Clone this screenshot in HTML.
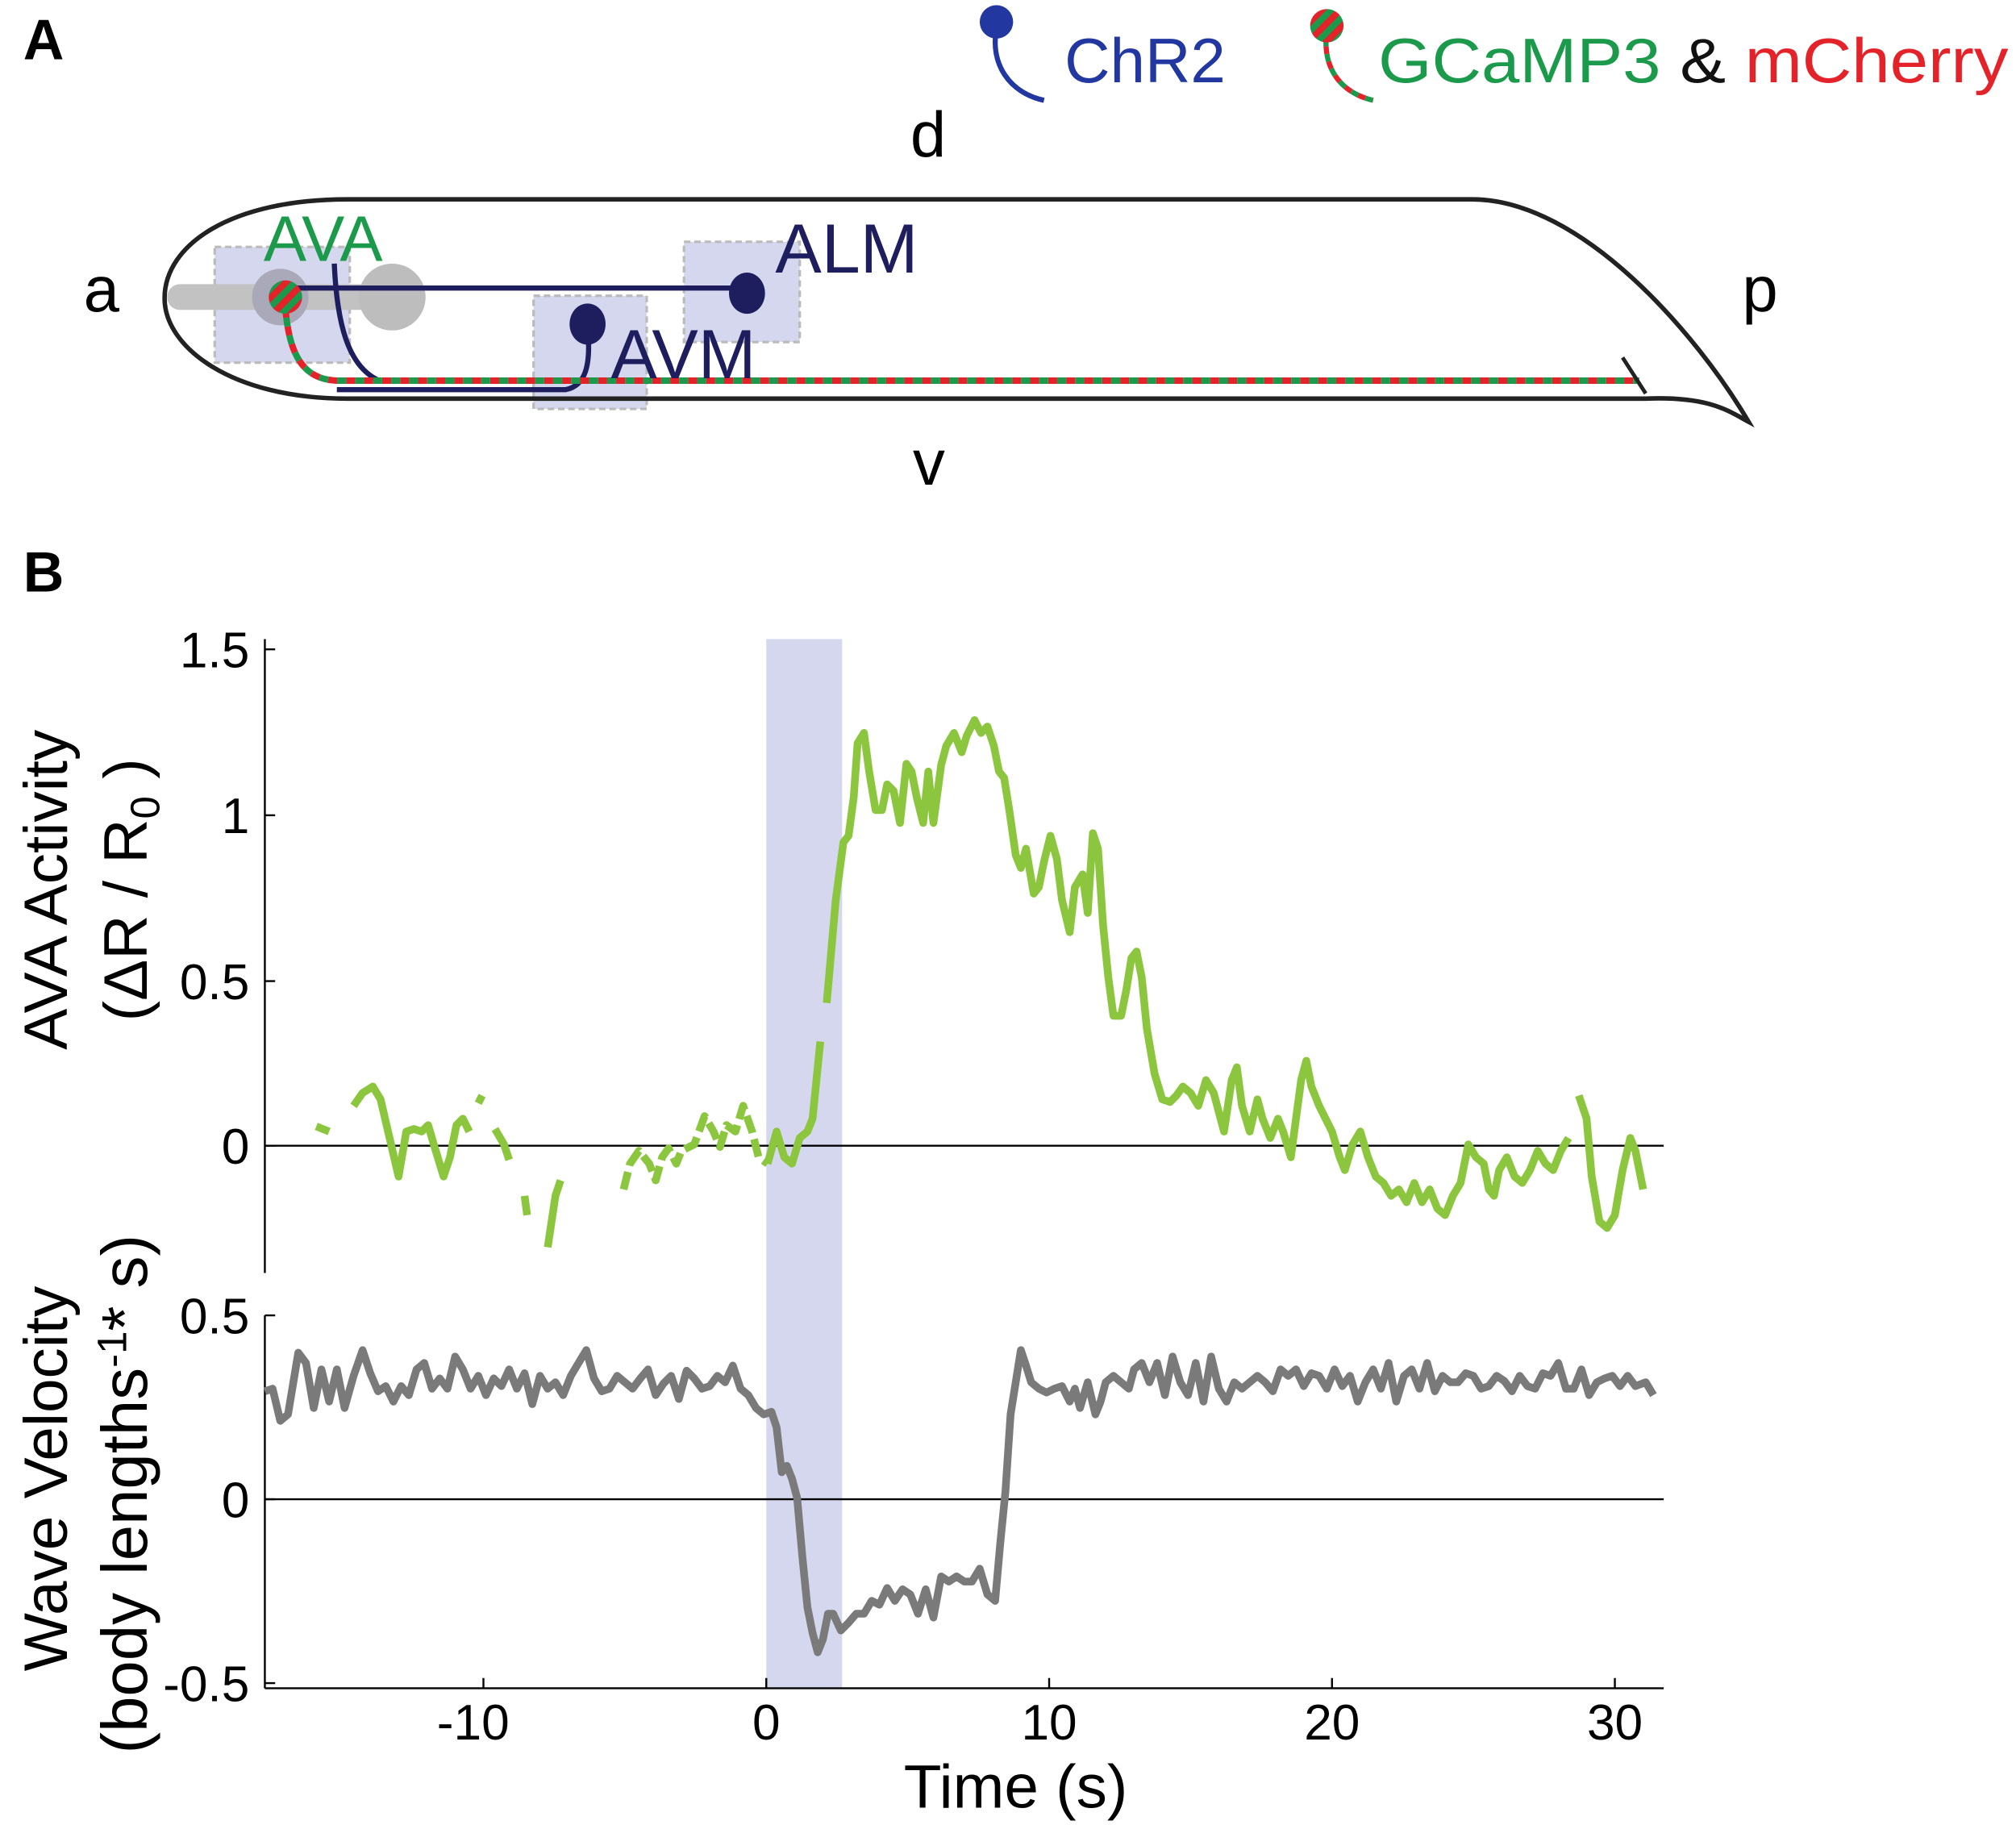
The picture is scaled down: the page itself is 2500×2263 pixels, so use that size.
<!DOCTYPE html>
<html><head><meta charset="utf-8"><style>html,body{margin:0;padding:0;background:#fff}svg{display:block}</style></head>
<body>
<svg width="2500" height="2263" viewBox="0 0 1568 1419.3" xmlns="http://www.w3.org/2000/svg" font-family="Liberation Sans, sans-serif">
<defs>
<pattern id="st" width="10" height="10" patternUnits="userSpaceOnUse" patternTransform="rotate(45)"><rect width="5" height="10" fill="#e42229"/><rect x="5" width="5" height="10" fill="#1a9a4a"/></pattern>
</defs>
<text x="18" y="46" font-size="44" font-weight="bold">A</text>
<text x="18" y="460" font-size="44" font-weight="bold">B</text>
<!-- legend -->
<path d="M775,22 C770,50 785,72 812,78" fill="none" stroke="#2238a0" stroke-width="4"/>
<circle cx="775" cy="17" r="13" fill="#2238a0"/>
<text x="828" y="64" font-size="49" fill="#2238a0">ChR2</text>
<path d="M1032,24 C1028,52 1042,72 1068,78" fill="none" stroke="#e42229" stroke-width="4" stroke-dasharray="6 6"/>
<path d="M1032,24 C1028,52 1042,72 1068,78" fill="none" stroke="#1a9a4a" stroke-width="4" stroke-dasharray="6 6" stroke-dashoffset="6"/>
<circle cx="1032" cy="20" r="13" fill="url(#st)"/>
<text x="1072" y="64" font-size="49" fill="#1a9a4a" textLength="490" lengthAdjust="spacingAndGlyphs">GCaMP3 <tspan fill="#111">&amp;</tspan> <tspan fill="#e42229">mCherry</tspan></text>
<!-- worm -->
<text x="65" y="242" font-size="50">a</text>
<text x="1355" y="242" font-size="50">p</text>
<text x="708" y="122" font-size="50">d</text>
<text x="710" y="377" font-size="50">v</text>
<rect x="167" y="192" width="105" height="90" fill="#d5d7ee" stroke="#bbb" stroke-width="2" stroke-dasharray="5 3"/>
<rect x="415" y="230" width="88" height="88" fill="#d5d7ee" stroke="#bbb" stroke-width="2" stroke-dasharray="5 3"/>
<rect x="532" y="188" width="90" height="78" fill="#d5d7ee" stroke="#bbb" stroke-width="2" stroke-dasharray="5 3"/>
<line x1="140" y1="231" x2="305" y2="231" stroke="#c2c2c2" stroke-width="20" stroke-linecap="round"/>
<circle cx="218" cy="231" r="22" fill="#a9a9b9"/>
<circle cx="305" cy="231" r="26" fill="#bdbdbd"/>
<path d="M270,155 L1145,155 C1230,155 1320,260 1360,328 C1345,320 1330,308 1280,310 L270,310 C180,310 128,270 128,232 C128,190 180,155 270,155 Z" fill="none" stroke="#222" stroke-width="3.5"/>
<line x1="222" y1="224" x2="581" y2="224" stroke="#1e1e5e" stroke-width="4"/>
<ellipse cx="581" cy="228" rx="14" ry="16" fill="#1e1e5e"/>
<path d="M457,255 C460,285 455,300 440,303 L262,303" fill="none" stroke="#1e1e5e" stroke-width="4"/>
<ellipse cx="457" cy="252" rx="14" ry="16" fill="#1e1e5e"/>
<path d="M260,205 C262,250 270,285 295,296" fill="none" stroke="#1e1e5e" stroke-width="4"/>
<path d="M222,240 C225,275 235,295 262,296 L1275,296" fill="none" stroke="#e42229" stroke-width="5" stroke-dasharray="7 7"/>
<path d="M222,240 C225,275 235,295 262,296 L1275,296" fill="none" stroke="#1a9a4a" stroke-width="5" stroke-dasharray="7 7" stroke-dashoffset="7"/>
<line x1="1262" y1="278" x2="1280" y2="306" stroke="#222" stroke-width="3"/>
<circle cx="222" cy="231" r="13" fill="url(#st)"/>
<text x="205" y="203" font-size="50" fill="#1a9a4a">AVA</text>
<text x="603" y="212" font-size="54" fill="#1e1e5e">ALM</text>
<text x="475" y="294" font-size="54" fill="#1e1e5e">AVM</text>
<!-- chart -->
<rect x="596" y="497" width="59" height="816" fill="#d5d7ee"/>
<g stroke="#000" stroke-width="1.5" fill="none">
<line x1="206" y1="497" x2="206" y2="990"/>
<line x1="206" y1="1023" x2="206" y2="1313"/>
<line x1="206" y1="1313" x2="1294" y2="1313"/>
<line x1="206" y1="891" x2="1294" y2="891"/>
<line x1="206" y1="1166" x2="1294" y2="1166"/>
<path d="M206,505h8M206,634h8M206,763h8M206,891h8M206,1023h8M206,1166h8M206,1309h8M376,1313v-8M596,1313v-8M816,1313v-8M1036,1313v-8M1256,1313v-8"/>
</g>
<g font-size="39" text-anchor="end">
<text x="194" y="519">1.5</text><text x="194" y="648">1</text><text x="194" y="777">0.5</text><text x="194" y="905">0</text>
<text x="194" y="1037">0.5</text><text x="194" y="1180">0</text><text x="194" y="1323">-0.5</text>
</g>
<g font-size="39" text-anchor="middle">
<text x="368" y="1353">-10</text><text x="596" y="1353">0</text><text x="816" y="1353">10</text><text x="1036" y="1353">20</text><text x="1256" y="1353">30</text>
</g>
<text x="790" y="1406" font-size="48" text-anchor="middle">Time (s)</text>
<g font-size="48" text-anchor="middle">
<text transform="translate(52,692) rotate(-90)">AVA Activity</text>
<text transform="translate(114,692) rotate(-90)">(ΔR / R<tspan font-size="32" dy="10">0</tspan><tspan dy="-10"> )</tspan></text>
<text transform="translate(52,1150) rotate(-90)">Wave Velocity</text>
<text transform="translate(114,1162) rotate(-90)" font-size="50">(body lengths<tspan font-size="32" dy="-16">-1</tspan><tspan dy="16">* s)</tspan></text>
</g>
<g fill="none" stroke="#8cc63f" stroke-width="6" stroke-linejoin="round" stroke-linecap="butt">
<polyline points="246,876 256,880"/>
<polyline points="275,860 282,850 290,845 296,855 303,885 310,915 316,880 322,878 328,880 333,875 338,892 345,915 350,900 355,875 360,870 365,880"/>
<polyline points="372,858 375,852"/>
<polyline points="385,878 392,890 396,902"/>
<polyline points="408,930 410,945"/>
<polyline points="426,970 432,930 436,918"/>
<polyline stroke-dasharray="14 5" points="485,925 490,905 497,895 505,905 510,918 515,900 520,893 526,905 530,895 540,890 548,868 555,880 560,892 565,875 572,880 578,860 585,880 590,900 597,905"/>
<polyline points="597,905 604,880 610,900 616,905 622,885 628,880 632,870 638,810"/>
<polyline points="643,780 650,700 656,655 660,650 664,620 667,578 672,570 676,600 681,630 686,630 690,610 695,615 700,640 705,594 709,600 713,620 718,640 722,600 726,640 732,595 736,580 742,570 748,585 752,572 758,560 763,570 768,565 773,580 777,600 781,605 785,630 790,665 794,675 798,660 804,695 808,690 812,670 817,650 822,668 826,700 832,725 836,690 842,680 846,710 850,648 854,660 858,720 862,760 866,790 872,790 876,770 880,745 884,740 888,760 892,800 898,835 904,855 910,857 915,852 920,845 926,850 932,860 938,840 944,850 948,865 952,880 958,840 962,830 966,860 972,880 978,855 982,870 988,885 994,870 998,880 1004,900 1008,870 1012,840 1016,825 1020,845 1026,860 1030,868 1036,880 1042,900 1046,910 1052,890 1058,880 1064,900 1070,915 1076,920 1082,930 1088,925 1094,935 1100,920 1106,935 1112,925 1118,940 1124,945 1130,930 1136,920 1142,890 1148,900 1154,905 1158,925 1162,930 1166,910 1172,900 1178,915 1184,920 1190,910 1196,895 1202,905 1208,910 1214,895 1220,885"/>
<polyline points="1228,852 1234,870 1238,915 1244,950 1250,955 1256,945 1262,910 1268,885 1272,895 1278,925"/>
</g>
<polyline fill="none" stroke="#7a7a7a" stroke-width="6" stroke-linejoin="round" points="206,1082 212,1080 218,1105 224,1100 232,1052 238,1060 244,1095 250,1065 256,1090 262,1065 268,1095 275,1070 282,1050 288,1068 294,1082 300,1078 306,1090 312,1078 318,1085 324,1065 330,1060 336,1080 342,1072 348,1080 354,1055 360,1065 366,1080 372,1070 378,1085 384,1072 390,1078 396,1065 402,1080 408,1068 414,1092 420,1070 426,1080 432,1075 438,1085 444,1070 450,1060 456,1050 462,1072 468,1082 474,1080 480,1070 486,1075 492,1080 498,1072 504,1065 510,1085 516,1076 522,1070 528,1088 534,1066 540,1072 546,1080 552,1078 558,1070 564,1075 570,1062 576,1080 582,1085 588,1095 594,1100 600,1098 604,1110 608,1145 612,1140 616,1150 620,1165 624,1210 628,1250 632,1270 636,1285 640,1275 644,1255 648,1255 654,1268 660,1262 666,1255 672,1255 678,1245 684,1248 690,1235 696,1245 702,1236 708,1240 714,1255 720,1236 726,1258 732,1226 738,1230 744,1226 750,1230 756,1230 762,1220 768,1240 774,1245 778,1200 782,1160 786,1100 790,1075 794,1050 798,1062 802,1075 808,1080 814,1083 820,1080 826,1078 832,1090 836,1080 840,1095 846,1075 852,1100 856,1090 860,1075 866,1070 872,1075 878,1080 882,1065 888,1060 894,1075 900,1060 906,1085 912,1055 918,1075 924,1085 930,1060 936,1090 942,1055 948,1080 954,1090 960,1075 966,1080 972,1075 978,1070 984,1075 990,1082 996,1065 1002,1070 1008,1065 1014,1078 1020,1068 1026,1070 1032,1080 1038,1065 1044,1078 1050,1070 1056,1090 1062,1075 1068,1065 1074,1080 1080,1060 1086,1090 1092,1070 1098,1065 1104,1080 1110,1060 1116,1082 1122,1070 1128,1075 1134,1075 1140,1068 1146,1070 1152,1080 1158,1078 1164,1070 1170,1074 1176,1082 1182,1070 1188,1078 1194,1080 1200,1068 1206,1070 1212,1060 1218,1080 1224,1080 1230,1065 1236,1085 1242,1075 1248,1072 1254,1070 1260,1078 1266,1070 1272,1078 1280,1075 1286,1085"/>
</svg>
</body></html>
